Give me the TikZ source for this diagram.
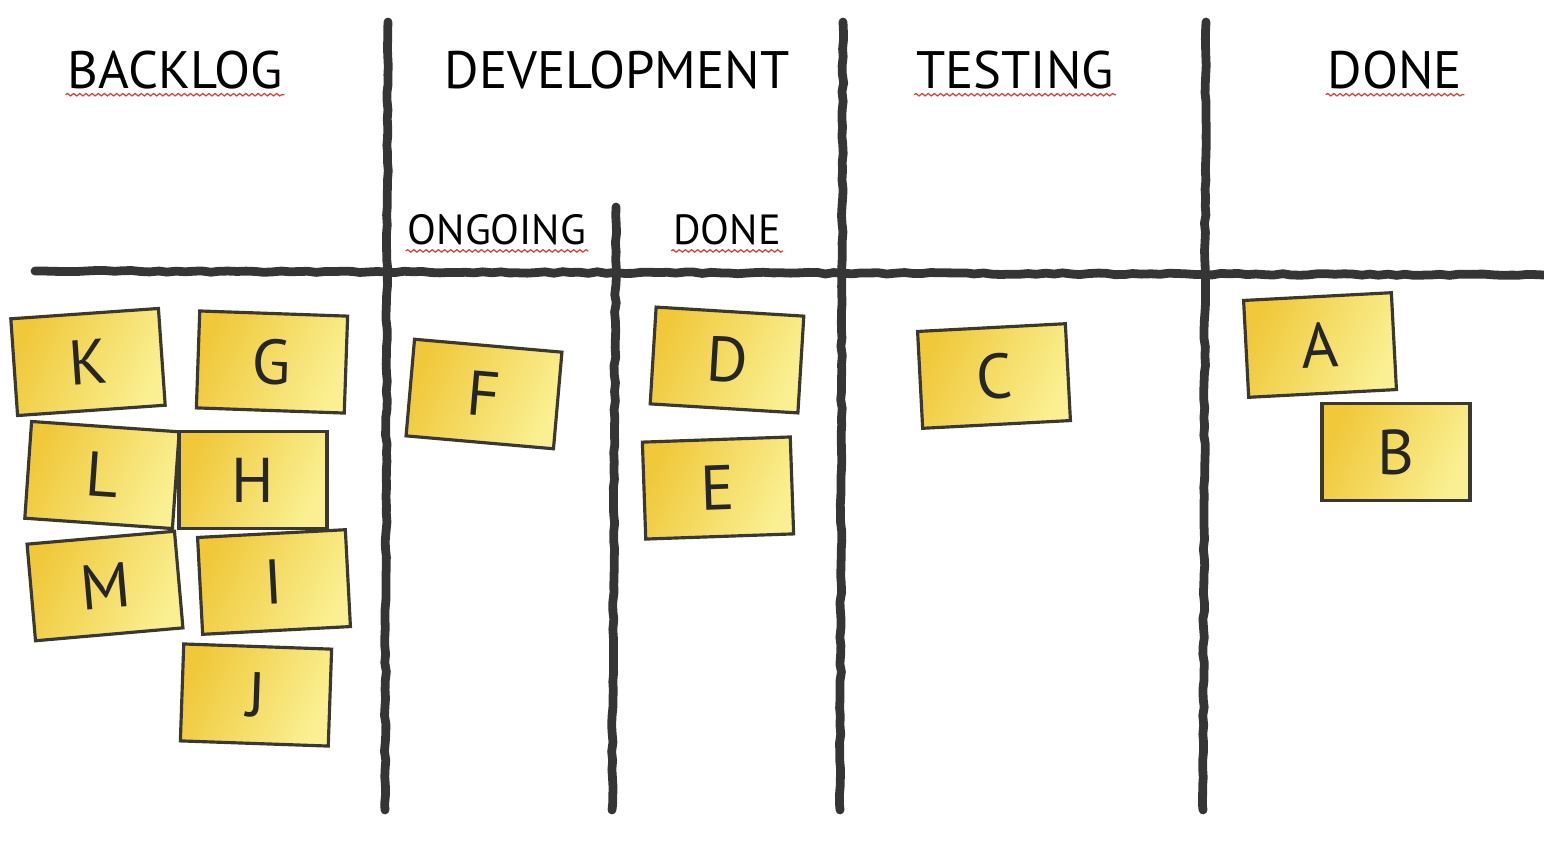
\documentclass[tikz,border=0pt]{standalone}
\usepackage{fontspec}
\setmainfont{PT Sans}
\usetikzlibrary{decorations.pathmorphing, positioning}

\definecolor{boardgray}{HTML}{353535}
\definecolor{noteedge}{HTML}{3A3830}
\definecolor{notedark}{HTML}{F0C83A}
\definecolor{notelight}{HTML}{FAF093}
\definecolor{spellred}{HTML}{D84040}

\tikzset{
  board/.style={draw=boardgray, line width=5pt, line cap=round,
                decorate, decoration={random steps, segment length=5pt, amplitude=0.5pt}},
  heading/.style={font=\fontsize{30}{30}\selectfont, inner sep=1pt},
  subheading/.style={font=\fontsize{24}{24}\selectfont, inner sep=1pt},
  sticky/.style={draw=noteedge, line width=1.8pt, left color=notedark, right color=notelight,
                 shading angle=65, minimum width=2.96cm, minimum height=1.94cm,
                 inner sep=0pt, text=black!85, font=\fontsize{36}{36}\selectfont},
  spell/.style={draw=spellred, line width=0.7pt, decorate,
                decoration={snake, amplitude=0.7pt, segment length=3.5pt}}
}

\begin{document}
\begin{tikzpicture}[x=0.02cm, y=-0.02cm]
\useasboundingbox (0,0) rectangle (1544,840);
\pgfmathsetseed{11}

% board lines
\draw[board] (35,271) -- (1544,275);
\draw[board] (388,22) -- (385,810);
\draw[board] (616,207) -- (612,810);
\draw[board] (843,22) -- (840,810);
\draw[board] (1206,22) -- (1203,810);

% column headings
\node[heading] (backlog) at (175,70) {BACKLOG};
\node[heading] (development) at (617,70) {DEVELOPMENT};
\node[heading] (testing) at (1015,70) {TESTING};
\node[heading] (done) at (1395,70) {DONE};
\node[subheading] (ongoing) at (497,230) {ONGOING};
\node[subheading] (devdone) at (727,230) {DONE};

% spell check squiggles
\foreach \n in {backlog, testing, done, ongoing, devdone}
  \draw[spell] ([yshift=-2pt]\n.south west) -- ([yshift=-2pt]\n.south east);

% backlog notes
\node[sticky, rotate=4] (K) at (88,362) {K};
\node[sticky, rotate=-2] (G) at (272,362) {G};
\node[sticky, rotate=-4] (L) at (102,475) {L};
\node[sticky] (H) at (253,480) {H};
\node[sticky, rotate=5] (M) at (105,586) {M};
\node[sticky, rotate=3] (I) at (274,582) {I};
\node[sticky, rotate=-2] (J) at (256,695) {J};

% development notes
\node[sticky, rotate=-5] (F) at (484,394) {F};
\node[sticky, rotate=-3.5] (D) at (727,360) {D};
\node[sticky, rotate=2] (E) at (718,488) {E};

% testing and done notes
\node[sticky, rotate=3] (C) at (994,376) {C};
\node[sticky, rotate=3] (A) at (1320,345) {A};
\node[sticky] (B) at (1396,452) {B};
\end{tikzpicture}
\end{document}
